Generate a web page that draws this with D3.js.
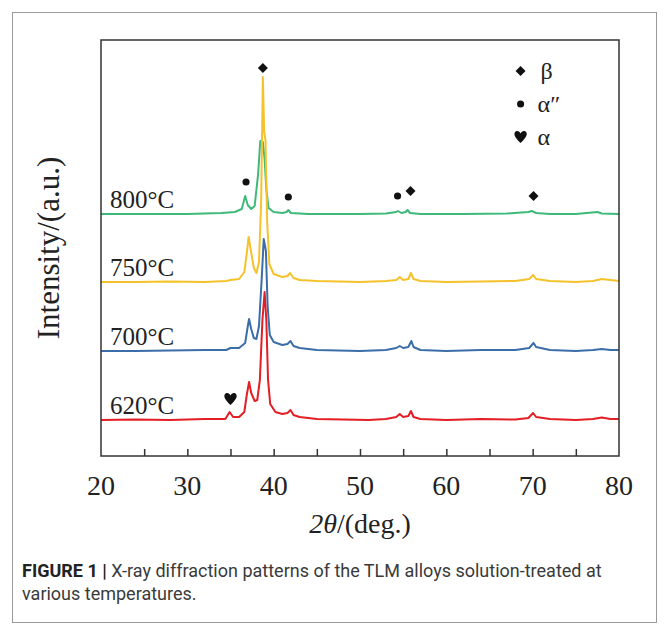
<!DOCTYPE html>
<html>
<head>
<meta charset="utf-8">
<script src="https://cdn.jsdelivr.net/npm/d3@7"></script>
<style>
  body { margin: 0; background: #fff; }
  svg { display: block; }
</style>
</head>
<body>
<div id="chart"></div>
<script>
// temperatures, bottom to top
var temps = ["620°C", "700°C", "750°C", "800°C"];
var colors = ["#e31e24", "#3b6ea8", "#f6c22b", "#3fb97a"];
var offsets = [36, 105, 174, 242];

// [2theta, intensity above own baseline]
var red620 = [[20,0],[24,0.5],[28,0],[32,1],[34.4,1],[34.9,8],[35.3,3],[36,3],[36.6,8],[36.9,26],[37.15,38],[37.4,27],[37.8,19],[38.1,20],[38.4,40],[38.7,100],[38.95,128],[39.15,100],[39.35,40],[39.6,16],[40.2,8],[41,6],[41.6,7],[41.95,10],[42.3,5],[43,3],[45,1],[48,0.5],[51,0],[53,1],[54.2,3],[54.6,6],[55,3],[55.6,4],[55.9,9],[56.2,3],[57,1],[60,0],[64,1],[68,0.5],[69.5,2],[70.05,7],[70.4,3],[72,1],[75,0],[77,1],[78,2.5],[79,1],[80,1]];
var blue700 = [[20,0],[24,0],[28,0.5],[32,1],[34.5,1],[35,3],[36,3],[36.7,8],[36.95,22],[37.15,32],[37.4,22],[37.7,13],[38,12],[38.3,25],[38.6,70],[38.85,112],[39.1,100],[39.3,45],[39.55,16],[40,9],[41,6],[41.6,7],[41.95,10],[42.3,5],[43,3],[45,1],[50,0],[53,1],[54.2,3],[54.6,5],[55,3],[55.6,4],[55.95,10],[56.2,4],[57,1],[60,0],[64,1],[68,1],[69.6,3],[70.1,8],[70.4,4],[72,1],[75,0],[77,1],[78,2],[79,1],[80,1]];
var yellow750 = [[20,0],[24,0],[28,0.5],[32,0],[34.5,1],[35,2],[36,3],[36.6,10],[36.9,30],[37.1,45],[37.35,32],[37.7,14],[38,9],[38.3,20],[38.55,80],[38.75,205],[38.9,150],[39.05,142],[39.25,60],[39.5,18],[40,8],[41,5],[41.6,6],[41.9,9],[42.3,4],[43,2],[45,1],[50,0],[53,1],[54.2,2],[54.6,5],[55,2],[55.6,3],[55.9,9],[56.2,3],[57,1],[60,0],[64,0.5],[68,1],[69.6,3],[70.05,7],[70.4,3],[72,1],[75,0],[77,1],[78,3],[79,2],[80,1]];
var green800 = [[20,0],[25,0],[30,0],[34,1],[35.5,2],[36.3,5],[36.7,18],[37,9],[37.4,5],[37.8,8],[38.2,40],[38.45,73],[38.75,72],[38.95,55],[39.15,25],[39.4,6],[40,2],[41,1],[41.5,2],[41.7,4],[42,1],[44,0],[50,0],[53,0.5],[54.2,2],[54.4,3],[54.8,1],[55.3,2],[55.5,4],[55.8,1],[57,0],[62,0],[67,0.5],[69.5,2],[69.9,3],[70.4,1],[72,0],[75,0],[77.5,2],[78,0.5],[80,0]];
var series = [red620, blue700, yellow750, green800];

var xTicks = [20, 30, 40, 50, 60, 70, 80];

// phase markers [2theta, height above plot bottom, symbol]
var peakMarks = [[38.75,388,"diamond"],[36.8,274,"circle"],[41.7,259,"circle"],[54.35,260,"circle"],[55.85,265,"diamond"],[70.1,260,"diamond"],[35.0,57,"heart"]];
var legendItems = [["diamond","β"],["circle","α″"],["heart","α"]];

var width = 669, height = 635;
var margin = {left: 101, right: 50, top: 40, bottom: 179};
var w = width - margin.left - margin.right;
var h = height - margin.top - margin.bottom;

var svg = d3.select("#chart").append("svg")
  .attr("width", width)
  .attr("height", height);

// outer frame of figure
svg.append("rect")
  .attr("x", 12.5).attr("y", 12.5)
  .attr("width", 644).attr("height", 610)
  .attr("fill", "none")
  .attr("stroke", "#9a9a9a")
  .attr("stroke-width", 1);

var g = svg.append("g")
  .attr("transform", `translate(${margin.left},${margin.top})`);

var x = d3.scaleLinear().domain([20, 80]).range([0, w]);
var y = d3.scaleLinear().domain([0, h]).range([h, 0]);

var line = d3.line()
  .x(d => x(d[0]))
  .y(d => y(d[1]));

// draw top curve first so lower ones lie over it
[3, 2, 1, 0].forEach(function(i) {
  g.append("path")
    .datum(series[i].map(d => [d[0], d[1] + offsets[i]]))
    .attr("d", line)
    .attr("fill", "none")
    .attr("stroke", colors[i])
    .attr("stroke-width", 2)
    .attr("stroke-linejoin", "round");

  g.append("text")
    .attr("x", 9)
    .attr("y", y(offsets[i]) - 6)
    .attr("font-family", "Liberation Serif, serif")
    .attr("font-size", 25)
    .attr("fill", "#222")
    .text(temps[i]);
});

// frame
g.append("rect")
  .attr("width", w).attr("height", h)
  .attr("fill", "none")
  .attr("stroke", "#333")
  .attr("stroke-width", 1.5);

var xAxis = d3.axisBottom(x)
  .tickValues(d3.range(25, 80, 5))
  .tickSize(-7)
  .tickFormat("");

g.append("g")
  .attr("transform", `translate(0,${h})`)
  .call(xAxis)
  .call(s => s.select(".domain").remove())
  .call(s => s.selectAll("line").attr("stroke", "#333").attr("stroke-width", 1.5));

g.selectAll(".xlab")
  .data(xTicks)
  .enter().append("text")
  .attr("class", "xlab")
  .attr("x", d => x(d))
  .attr("y", h + 39)
  .attr("text-anchor", "middle")
  .attr("font-family", "Liberation Serif, serif")
  .attr("font-size", 28)
  .attr("fill", "#222")
  .text(d => d);

var xl = g.append("text")
  .attr("x", w / 2)
  .attr("y", h + 77)
  .attr("text-anchor", "middle")
  .attr("font-family", "Liberation Serif, serif")
  .attr("font-size", 28)
  .attr("fill", "#222");
xl.append("tspan").attr("font-style", "italic").text("2θ");
xl.append("tspan").text("/(deg.)");

g.append("text")
  .attr("transform", `translate(-42,${h / 2}) rotate(-90)`)
  .attr("text-anchor", "middle")
  .attr("font-family", "Liberation Serif, serif")
  .attr("font-size", 31)
  .attr("fill", "#222")
  .text("Intensity/(a.u.)");

function symbolPath(kind) {
  if (kind === "diamond") return d3.symbol(d3.symbolDiamond2, 64)();
  if (kind === "circle") return d3.symbol(d3.symbolCircle, 40)();
  return "M0,6 C-3.5,2.5 -7,-1 -6,-4 C-5,-7 -1,-6.5 0,-3.5 C1,-6.5 5,-7 6,-4 C7,-1 3.5,2.5 0,6 Z";
}

g.selectAll(".mark")
  .data(peakMarks)
  .enter().append("path")
  .attr("class", "mark")
  .attr("transform", d => `translate(${x(d[0])},${y(d[1])})`)
  .attr("d", d => symbolPath(d[2]))
  .attr("fill", "#111");

var leg = g.append("g").attr("transform", `translate(${x(68.6)},31)`);
legendItems.forEach(function(d, i) {
  leg.append("path")
    .attr("transform", `translate(0,${i * 33})`)
    .attr("d", symbolPath(d[0]))
    .attr("fill", "#111");
  leg.append("text")
    .attr("x", i === 0 ? 20 : 17)
    .attr("y", i * 33 + 8)
    .attr("font-family", "Liberation Serif, serif")
    .attr("font-size", 24)
    .attr("fill", "#222")
    .text(d[1]);
});

// caption
var cap = svg.append("g")
  .attr("font-family", "Roboto, Liberation Sans, sans-serif")
  .attr("font-size", 18)
  .attr("fill", "#3a3a3a");
var c1 = cap.append("text").attr("x", 22).attr("y", 577);
c1.append("tspan").attr("font-weight", "bold").attr("fill", "#222").text("FIGURE 1 | ");
c1.append("tspan").text("X-ray diffraction patterns of the TLM alloys solution-treated at");
cap.append("text").attr("x", 22).attr("y", 600).text("various temperatures.");
</script>
</body>
</html>
